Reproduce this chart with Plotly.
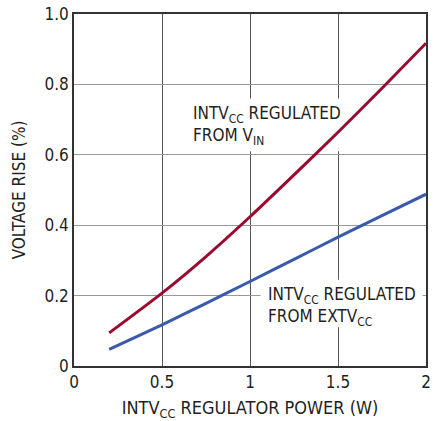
import plotly.graph_objects as go

power_w = [0.2, 0.5, 0.75, 1.0, 1.25, 1.5, 1.75, 2.0]
rise_vin = [0.094, 0.207, 0.311, 0.424, 0.543, 0.664, 0.789, 0.917]
rise_extvcc = [0.047, 0.117, 0.178, 0.240, 0.303, 0.366, 0.427, 0.488]

x_ticks = [0, 0.5, 1, 1.5, 2]
x_tick_labels = ["0", "0.5", "1", "1.5", "2"]
y_ticks = [0, 0.2, 0.4, 0.6, 0.8, 1.0]
y_tick_labels = ["0", "0.2", "0.4", "0.6", "0.8", "1.0"]

FONT = "Liberation Sans Narrow, DejaVu Sans Condensed, Arial Narrow, sans-serif"
TXT = "#231f20"

fig = go.Figure()
fig.add_trace(go.Scatter(x=power_w, y=rise_vin, mode="lines",
                         line=dict(color="#9b0a2e", width=3, shape="spline", smoothing=0.6),
                         showlegend=False, hoverinfo="skip"))
fig.add_trace(go.Scatter(x=power_w, y=rise_extvcc, mode="lines",
                         line=dict(color="#3a5aab", width=3, shape="spline", smoothing=0.6),
                         showlegend=False, hoverinfo="skip"))

# white masks hiding gridlines behind labels (between gridlines and traces)
fig.add_shape(type="rect", xref="x", yref="y", x0=0.64, x1=1.52, y0=0.61, y1=0.76,
              fillcolor="white", line=dict(width=0), layer="between")
fig.add_shape(type="rect", xref="x", yref="y", x0=1.06, x1=1.98, y0=0.11, y1=0.245,
              fillcolor="white", line=dict(width=0), layer="between")

fig.add_annotation(x=0.665, y=0.752, xref="x", yref="y", xanchor="left", yanchor="top",
                   text="INTV<sub>CC</sub> REGULATED<br>FROM V<sub>IN</sub>",
                   showarrow=False, align="left",
                   font=dict(family=FONT, size=17, color=TXT))
fig.add_annotation(x=1.09, y=0.238, xref="x", yref="y", xanchor="left", yanchor="top",
                   text="INTV<sub>CC</sub> REGULATED<br>FROM EXTV<sub>CC</sub>",
                   showarrow=False, align="left",
                   font=dict(family=FONT, size=17, color=TXT))

fig.update_layout(
    width=441, height=421,
    margin=dict(l=74, r=15, t=14, b=55),
    paper_bgcolor="white", plot_bgcolor="white",
    font=dict(family=FONT, size=16, color=TXT),
)
fig.update_xaxes(range=[0, 2], tickvals=x_ticks, ticktext=x_tick_labels,
                 showgrid=True, gridcolor="#555555", gridwidth=1,
                 showline=True, linecolor="#333333", linewidth=1.5, mirror=True,
                 ticks="", zeroline=False, automargin=False,
                 title=dict(text="INTV<sub>CC</sub> REGULATOR POWER (W)",
                            font=dict(family=FONT, size=18, color=TXT)),
                 tickfont=dict(family=FONT, size=17, color=TXT))
fig.update_yaxes(range=[0, 1.0], tickvals=y_ticks, ticktext=y_tick_labels,
                 showgrid=True, gridcolor="#999999", gridwidth=1,
                 showline=True, linecolor="#333333", linewidth=1.5, mirror=True,
                 ticks="", zeroline=False, automargin=False,
                 title=dict(text="VOLTAGE RISE (%)",
                            font=dict(family=FONT, size=17, color=TXT)),
                 tickfont=dict(family=FONT, size=17, color=TXT))

fig.write_html("out.html", config={"displayModeBar": False},
               post_script="document.body.style.margin='0';")
